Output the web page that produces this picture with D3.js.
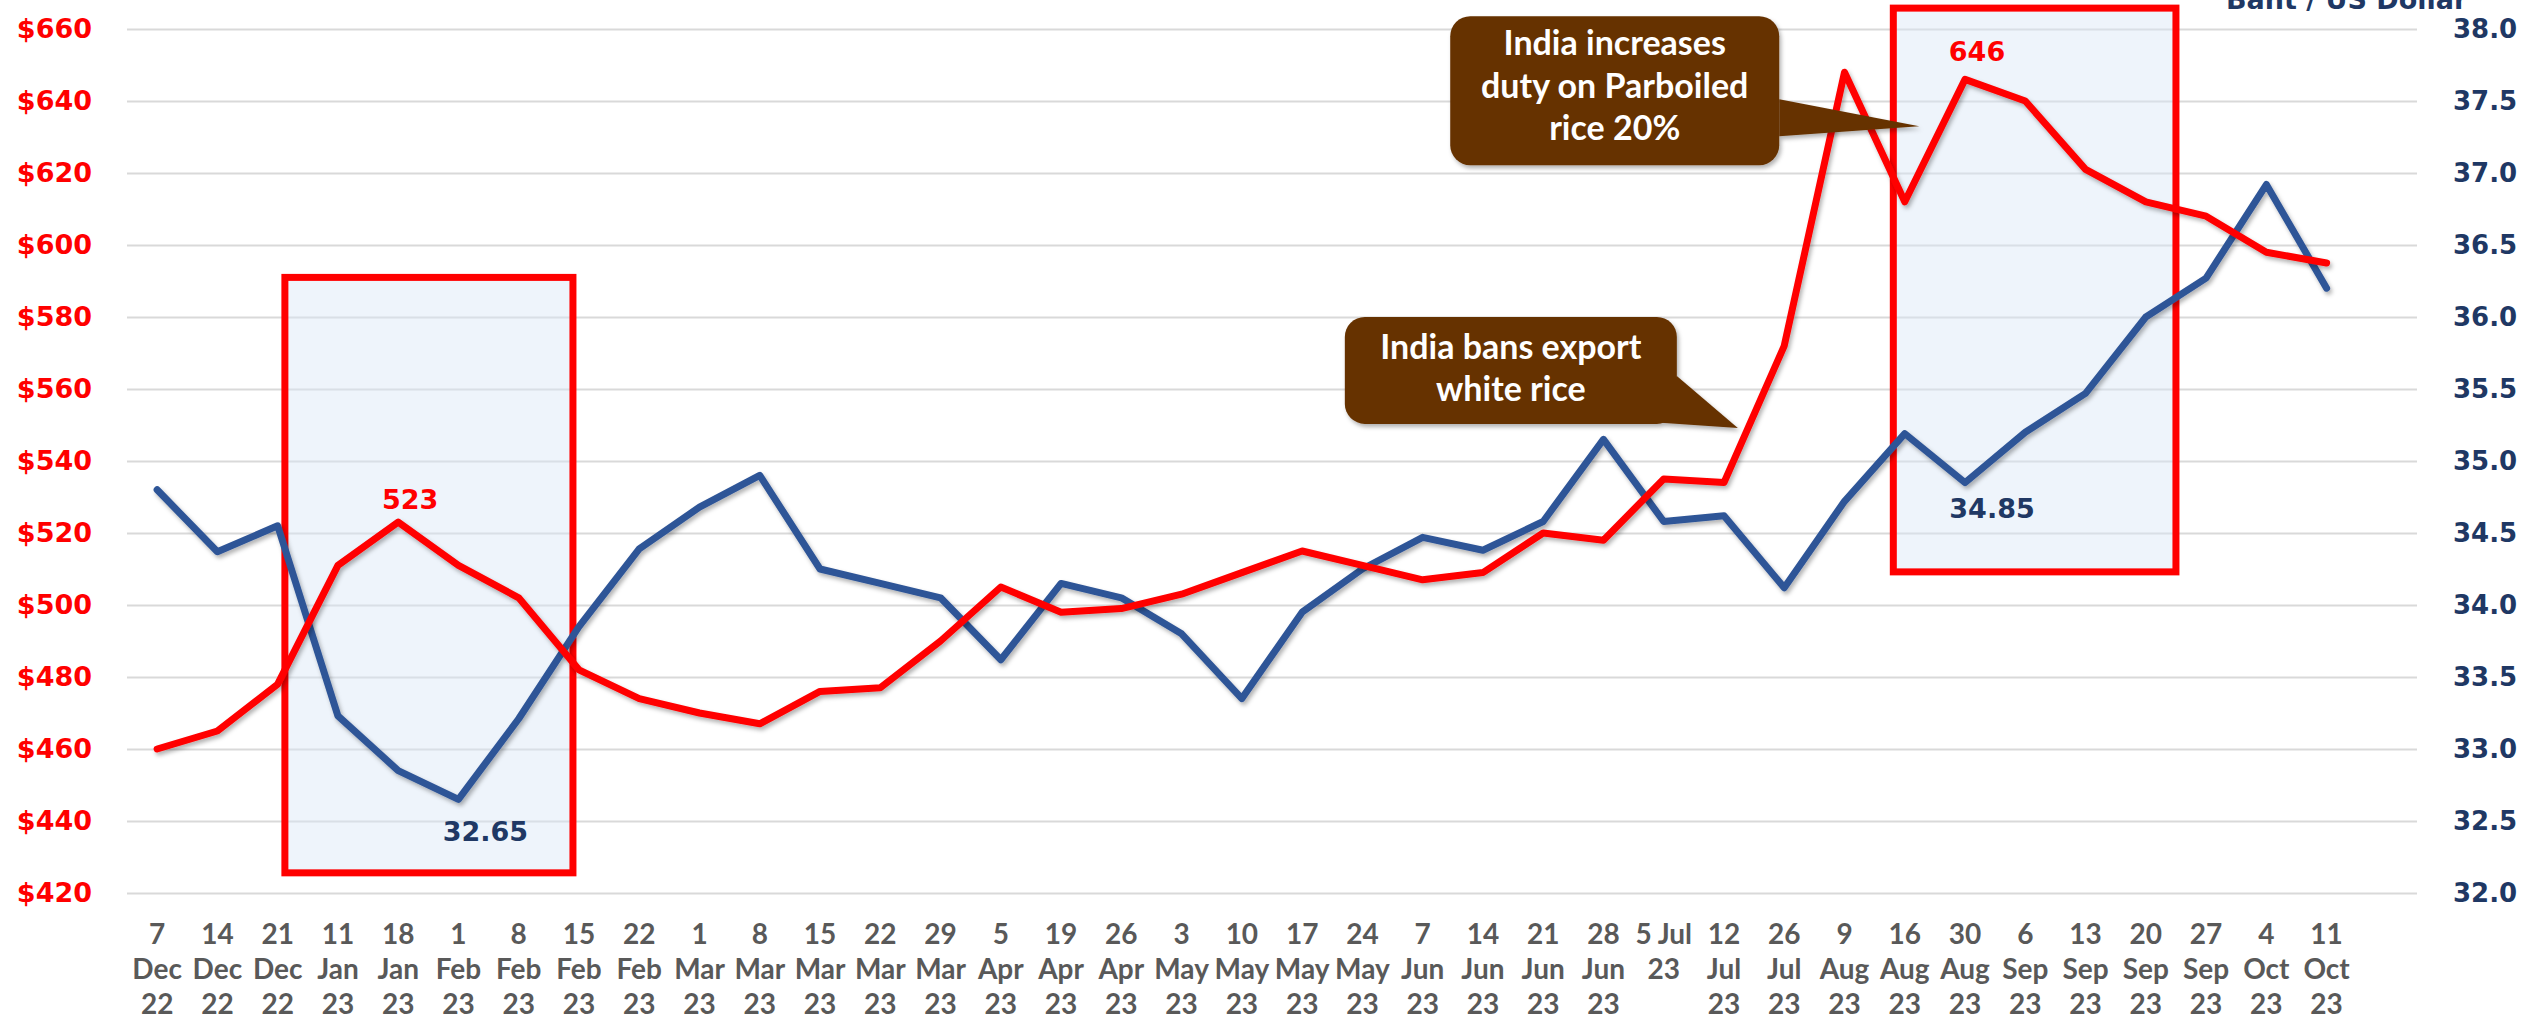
<!DOCTYPE html>
<html>
<head>
<meta charset="utf-8">
<script src="https://cdn.jsdelivr.net/npm/d3@7"></script>
<style>
body{margin:0;background:#fff}
svg{display:block}
</style>
</head>
<body>
<svg id="chart"></svg>
<script>
// weekly quotes, tick text split by "|" ; the last band of the category axis stays empty
var dates = ["7|Dec|22","14|Dec|22","21|Dec|22","11|Jan|23","18|Jan|23","1|Feb|23","8|Feb|23","15|Feb|23",
    "22|Feb|23","1|Mar|23","8|Mar|23","15|Mar|23","22|Mar|23","29|Mar|23","5|Apr|23","19|Apr|23","26|Apr|23",
    "3|May|23","10|May|23","17|May|23","24|May|23","7|Jun|23","14|Jun|23","21|Jun|23","28|Jun|23","5 Jul|23",
    "12|Jul|23","26|Jul|23","9|Aug|23","16|Aug|23","30|Aug|23","6|Sep|23","13|Sep|23","20|Sep|23","27|Sep|23",
    "4|Oct|23","11|Oct|23"]
// white rice price US$/ton (left axis)
var price = [460,465,478,511,523,511,502,482,474,470,467,476,477,490,505,498,499,503,509,515,511,507,509,520,518,535,
    534,572,648,612,646,640,621,612,608,598,595]
// Baht / US Dollar (right axis)
var baht = [34.8,34.37,34.55,33.23,32.85,32.65,33.21,33.85,34.39,34.68,34.9,34.25,34.15,34.05,33.62,34.15,34.05,33.8,
    33.35,33.95,34.25,34.47,34.38,34.58,35.15,34.58,34.62,34.12,34.72,35.19,34.85,35.2,35.47,36.0,36.27,36.92,36.2]
var priceTicks = d3.range(420, 661, 20)
var bahtTicks = d3.range(32, 38.01, 0.5)

var W = 2535, H = 1024,
    margin = {top: 29, right: 118, bottom: 131, left: 127},
    width = W - margin.left - margin.right,
    height = H - margin.top - margin.bottom,
    red = "#ff0000", blue = "#2f5597", navy = "#1f3864", brown = "#663300"

var x = d3.scaleBand().domain(dates.concat(["_"])).range([0, width]),
    bw = x.bandwidth(),
    yL = d3.scaleLinear().domain([420, 660]).range([height, 0]),
    yR = d3.scaleLinear().domain([32, 38]).range([height, 0]),
    cx = function(d) { return x(d) + bw / 2 }

var svgEl = d3.select("#chart").attr("width", W).attr("height", H)
var defs = svgEl.append("defs")
defs.append("filter").attr("id", "shadow").attr("x", "-20%").attr("y", "-20%").attr("width", "140%").attr("height", "140%")
    .append("feDropShadow").attr("dx", 2).attr("dy", 3).attr("stdDeviation", 2)
    .attr("flood-color", "#000").attr("flood-opacity", 0.3)

var svg = svgEl.append("g").attr("transform", "translate(" + margin.left + "," + margin.top + ")")

// gridlines
svg.append("g").attr("class", "grid")
    .call(d3.axisLeft(yL).tickValues(priceTicks).tickSize(-width).tickFormat(""))
    .call(g => g.select(".domain").remove())
    .selectAll("line").attr("stroke", "#d9d9d9").attr("stroke-width", 2)

// highlighted periods
var boxes = [
    {x0: x(dates[3]) - 0.38 * bw, x1: x(dates[7]) + 0.40 * bw, hi: 591, lo: 425.6},
    {x0: x(dates[29]) + 0.31 * bw, x1: x(dates[33]) + bw, hi: 665.8, lo: 509.2}
]
svg.selectAll(".hl").data(boxes).enter().append("rect").attr("class", "hl")
    .attr("x", d => d.x0).attr("y", d => yL(d.hi))
    .attr("width", d => d.x1 - d.x0).attr("height", d => yL(d.lo) - yL(d.hi))
    .attr("fill", "#dae6f6").attr("fill-opacity", 0.45)
    .attr("stroke", red).attr("stroke-width", 7)

// axes
svg.append("g")
    .call(d3.axisLeft(yL).tickValues(priceTicks).tickSize(0).tickPadding(35).tickFormat(d => "$" + d))
    .call(g => g.select(".domain").remove())
    .selectAll("text").attr("fill", red)
    .style("font", "bold 27px 'DejaVu Sans'")

svg.append("g").attr("transform", "translate(" + width + ",0)")
    .call(d3.axisRight(yR).tickValues(bahtTicks).tickSize(0).tickPadding(36).tickFormat(d3.format(".1f")))
    .call(g => g.select(".domain").remove())
    .selectAll("text").attr("fill", navy)
    .style("font", "bold 26px 'DejaVu Sans'")

var xg = svg.append("g").attr("transform", "translate(0," + height + ")")
    .call(d3.axisBottom(x).tickSize(0).tickFormat(d => d == "_" ? "" : d))
xg.select(".domain").remove()
xg.selectAll("text").each(function(d) {
    var t = d3.select(this).text("").attr("y", 0).attr("dy", null)
        .attr("fill", "#595959").style("font", "bold 28px Lato")
    if (d == "_") return
    d.split("|").forEach(function(s, i) {
        t.append("tspan").attr("x", 0).attr("y", 51 + i * 35).text(s)
    })
})

// series
var linePrice = d3.line().x((d, i) => cx(dates[i])).y(d => yL(d)),
    lineBaht = d3.line().x((d, i) => cx(dates[i])).y(d => yR(d))

svg.append("path").datum(baht).attr("d", lineBaht)
    .attr("fill", "none").attr("stroke", blue).attr("stroke-width", 7)
    .attr("stroke-linejoin", "round").attr("stroke-linecap", "round").attr("filter", "url(#shadow)")
svg.append("path").datum(price).attr("d", linePrice)
    .attr("fill", "none").attr("stroke", red).attr("stroke-width", 7)
    .attr("stroke-linejoin", "round").attr("stroke-linecap", "round").attr("filter", "url(#shadow)")

// value labels
var labels = [
    {i: 4, v: price[4], y: yL, dx: 12, dy: -13, c: red, t: "523"},
    {i: 30, v: price[30], y: yL, dx: 12, dy: -18, c: red, t: "646"},
    {i: 5, v: baht[5], y: yR, dx: 27, dy: 42, c: "#203864", t: "32.65"},
    {i: 30, v: baht[30], y: yR, dx: 27, dy: 35, c: "#203864", t: "34.85"}
]
svg.selectAll(".vl").data(labels).enter().append("text").attr("class", "vl")
    .attr("x", d => cx(dates[d.i]) + d.dx).attr("y", d => d.y(d.v) + d.dy)
    .attr("text-anchor", "middle").attr("fill", d => d.c)
    .style("font", "bold 27px 'DejaVu Sans'").text(d => d.t)

// right axis title (cut off by the top edge, as in the source)
svgEl.append("text").attr("x", 2226).attr("y", 9).attr("fill", navy)
    .style("font", "bold 27px 'DejaVu Sans'").text("Baht / US Dollar")

// callouts
var callouts = [
    {tipX: x(dates[30]) - 0.26 * bw, tipY: yL(633), bx: -469, by: -110, w: 329, h: 149,
     tri: [[-140, -27], [0, 0], [-140, 10]], lines: ["India increases", "duty on Parboiled", "rice 20%"], base: [39, 82, 124]},
    {tipX: x(dates[27]) - 0.27 * bw, tipY: yL(549.2), bx: -393, by: -111, w: 332, h: 107,
     tri: [[-61, -52], [0, 0], [-88, -6]], lines: ["India bans export", "white rice"], base: [42, 84]}
]
callouts.forEach(function(c) {
    var g = svg.append("g").attr("filter", "url(#shadow)")
    var bx = c.tipX + c.bx, by = c.tipY + c.by
    g.append("rect").attr("x", bx).attr("y", by).attr("width", c.w).attr("height", c.h)
        .attr("rx", 20).attr("fill", brown)
    g.append("path").attr("fill", brown)
        .attr("d", "M" + c.tri.map(p => (c.tipX + p[0]) + "," + (c.tipY + p[1])).join("L") + "Z")
    c.lines.forEach(function(s, i) {
        svg.append("text").attr("x", bx + c.w / 2).attr("y", by + c.base[i])
            .attr("text-anchor", "middle").attr("fill", "#fff")
            .style("font", "bold 34px Lato").text(s)
    })
})
</script>
</body>
</html>
